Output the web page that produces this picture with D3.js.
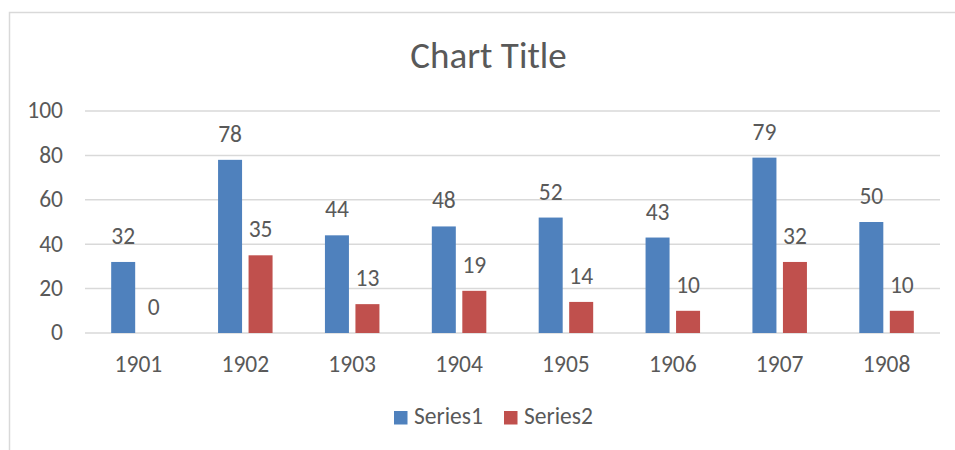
<!DOCTYPE html>
<html>
<head>
<meta charset="utf-8">
<script src="https://cdn.jsdelivr.net/npm/d3@7"></script>
<style>
	body { margin: 0; background: #fff; }
	svg text { font-family: Calibri, Carlito, Lato, sans-serif; fill: #595959; }
</style>
</head>
<body>
<svg id="chart" width="955" height="450"></svg>
<script>
'use strict';

const years = ["1901", "1902", "1903", "1904", "1905", "1906", "1907", "1908"];
const series1 = [32, 78, 44, 48, 52, 43, 79, 50];
const series2 = [0, 35, 13, 19, 14, 10, 32, 10];
const seriesNames = ["Series1", "Series2"];
const yTicks = [0, 20, 40, 60, 80, 100];

(function () {
	const colors = ["#4f81bd", "#c0504d"];
	const fs = "23.5px";
	const svg = d3.select("#chart");

	// chart area frame
	svg.append("rect")
		.attr("x", 9.5).attr("y", 12.5)
		.attr("width", 980).attr("height", 480)
		.attr("fill", "none")
		.attr("stroke", "#d9d9d9")
		.attr("stroke-width", 1.5);

	svg.append("text")
		.attr("x", 488.5).attr("y", 68)
		.attr("text-anchor", "middle")
		.style("font-size", "37px")
		.text("Chart Title");

	const x = d3.scaleBand().domain(years).range([85, 940]);
	const y = d3.scaleLinear().domain([0, 100]).range([333, 111]);

	const barW = 24, gap = 6.5;
	const groupW = barW * 2 + gap;

	// gridlines
	svg.append("g").selectAll("line")
		.data(yTicks)
		.enter()
		.append("line")
		.attr("x1", 85).attr("x2", 940)
		.attr("y1", d => y(d)).attr("y2", d => y(d))
		.attr("stroke", "#d9d9d9")
		.attr("stroke-width", 1.5);

	svg.append("g").selectAll("text")
		.data(yTicks)
		.enter()
		.append("text")
		.attr("x", 63)
		.attr("y", d => y(d) + 7.3)
		.attr("text-anchor", "end")
		.style("font-size", fs)
		.text(d => d);

	svg.append("g").selectAll("text")
		.data(years)
		.enter()
		.append("text")
		.attr("x", d => x(d) + x.bandwidth() / 2)
		.attr("y", 372.3)
		.attr("text-anchor", "middle")
		.style("font-size", fs)
		.text(d => d);

	const all = [series1, series2];
	all.forEach((vals, s) => {
		const bx = (i) => x(years[i]) + x.bandwidth() / 2 - groupW / 2 + s * (barW + gap);
		const g = svg.append("g").classed("series" + (s + 1), true);

		g.selectAll("rect")
			.data(vals)
			.enter()
			.append("rect")
			.attr("x", (d, i) => bx(i))
			.attr("y", d => y(d))
			.attr("width", barW)
			.attr("height", d => y(0) - y(d))
			.attr("fill", colors[s]);

		g.selectAll("text")
			.data(vals)
			.enter()
			.append("text")
			.attr("x", (d, i) => bx(i) + barW / 2)
			.attr("y", d => y(d) - 18)
			.attr("text-anchor", "middle")
			.style("font-size", fs)
			.text(d => d);
	});

	// legend
	const legendX = [394, 504];
	const legend = svg.append("g").selectAll("g")
		.data(seriesNames)
		.enter()
		.append("g")
		.attr("transform", (d, i) => `translate(${legendX[i]}, 411)`);

	legend.append("rect")
		.attr("width", 13.5).attr("height", 13.5)
		.attr("fill", (d, i) => colors[i]);

	legend.append("text")
		.attr("x", 20).attr("y", 13.3)
		.style("font-size", fs)
		.text(d => d);
})();
</script>
</body>
</html>
